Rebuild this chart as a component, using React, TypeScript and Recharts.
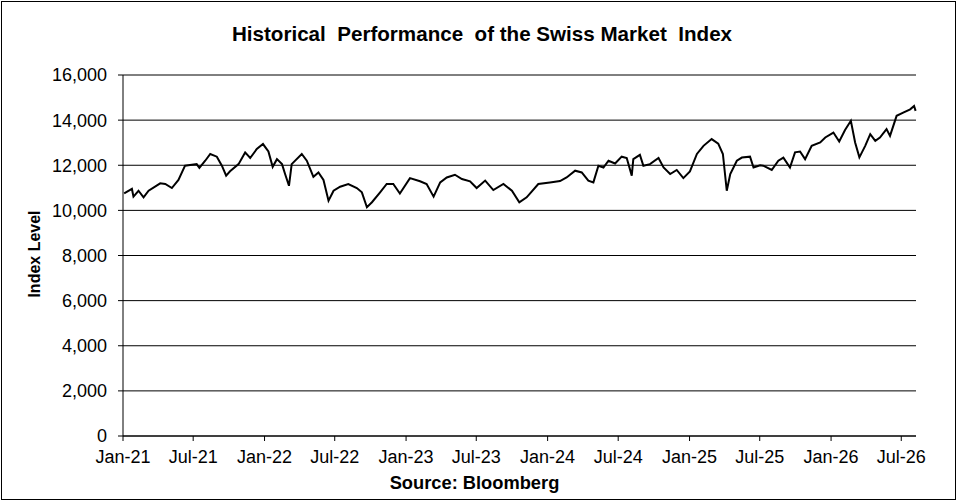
import React from "react";
import { LineChart, Line, XAxis, YAxis, CartesianGrid } from "recharts";

const dates = [
  "2021-01-04", "2021-01-24", "2021-01-28", "2021-02-10", "2021-02-23", "2021-03-08",
  "2021-04-07", "2021-04-20", "2021-05-07", "2021-05-24", "2021-06-10", "2021-07-10",
  "2021-07-17", "2021-08-01", "2021-08-14", "2021-08-31", "2021-09-13", "2021-09-24",
  "2021-10-04", "2021-10-26", "2021-11-12", "2021-11-25", "2021-12-12", "2021-12-28",
  "2022-01-11", "2022-01-22", "2022-02-02", "2022-02-15", "2022-02-23", "2022-03-05",
  "2022-03-12", "2022-04-07", "2022-04-20", "2022-05-07", "2022-05-20", "2022-06-02",
  "2022-06-15", "2022-06-28", "2022-07-15", "2022-08-05", "2022-08-27", "2022-09-09",
  "2022-09-22", "2022-10-05", "2022-10-26", "2022-11-12", "2022-11-29", "2022-12-16",
  "2023-01-11", "2023-02-06", "2023-02-23", "2023-03-13", "2023-03-30", "2023-04-16",
  "2023-05-07", "2023-05-25", "2023-06-15", "2023-07-02", "2023-07-24", "2023-08-14",
  "2023-09-09", "2023-10-01", "2023-10-20", "2023-11-08", "2023-12-08", "2024-01-07",
  "2024-02-02", "2024-02-19", "2024-03-12", "2024-03-29", "2024-04-15", "2024-04-28",
  "2024-05-11", "2024-05-24", "2024-06-06", "2024-06-23", "2024-07-10", "2024-07-23",
  "2024-08-05", "2024-08-09", "2024-08-26", "2024-09-04", "2024-09-21", "2024-10-13",
  "2024-10-26", "2024-11-12", "2024-11-29", "2024-12-16", "2025-01-02", "2025-01-20",
  "2025-02-06", "2025-02-27", "2025-03-16", "2025-03-28", "2025-04-07", "2025-04-16",
  "2025-05-03", "2025-05-16", "2025-06-06", "2025-06-15", "2025-07-02", "2025-07-10",
  "2025-08-01", "2025-08-18", "2025-08-31", "2025-09-17", "2025-09-30", "2025-10-13",
  "2025-10-26", "2025-11-12", "2025-12-04", "2025-12-17", "2026-01-07", "2026-01-22",
  "2026-02-06", "2026-02-21", "2026-03-04", "2026-03-15", "2026-03-30", "2026-04-12",
  "2026-04-25", "2026-05-07", "2026-05-24", "2026-06-02", "2026-06-19", "2026-07-06",
  "2026-07-24", "2026-08-03", "2026-08-07",
];

// SMI closing levels
const smi = [
  10750, 10950, 10610, 10870, 10580, 10870,
  11200, 11170, 10990, 11350, 11980, 12050,
  11880, 12200, 12500, 12380, 11980, 11540,
  11730, 12050, 12570, 12320, 12720, 12940,
  12610, 11930, 12270, 12050, 11610, 11090,
  12050, 12500, 12200, 11490, 11680, 11350,
  10430, 10870, 11050, 11170, 10990, 10800,
  10140, 10360, 10800, 11170, 11170, 10750,
  11430, 11290, 11170, 10610, 11240, 11460,
  11580, 11390, 11290, 10990, 11320, 10900,
  11170, 10870, 10360, 10580, 11170, 11240,
  11300, 11460, 11760, 11680, 11320, 11240,
  11980, 11900, 12200, 12080, 12380, 12320,
  11540, 12270, 12460, 11980, 12050, 12320,
  11900, 11610, 11790, 11430, 11730, 12500,
  12860, 13160, 12960, 12500, 10870, 11610,
  12200, 12340, 12380, 11900, 12000, 11980,
  11790, 12200, 12340, 11900, 12570, 12610,
  12270, 12860, 13010, 13230, 13450, 13050,
  13560, 13970, 13010, 12350, 12860, 13380,
  13080, 13230, 13600, 13300, 14190, 14330,
  14480, 14630, 14410,
];

const tickDates = [
  "2021-01-01", "2021-07-01", "2022-01-01", "2022-07-01", "2023-01-01", "2023-07-01",
  "2024-01-01", "2024-07-01", "2025-01-01", "2025-07-01", "2026-01-01", "2026-07-01",
];
const yTicks = [0, 2000, 4000, 6000, 8000, 10000, 12000, 14000, 16000];
const months = ["Jan", "Feb", "Mar", "Apr", "May", "Jun", "Jul", "Aug", "Sep", "Oct", "Nov", "Dec"];

const toTime = (s: string) => {
  const [y, m, d] = s.split("-").map(Number);
  return Date.UTC(y, m - 1, d);
};

const data = dates.map((d, i) => ({ t: toTime(d), v: smi[i] }));
const xTicks = tickDates.map(toTime);

const fmtDate = (t: number) => {
  const d = new Date(t);
  return `${months[d.getUTCMonth()]}-${String(d.getUTCFullYear()).slice(2)}`;
};

const font = "'Liberation Sans', Arial, sans-serif";

export default function App() {
  return (
    <div style={{ position: "absolute", left: 0, top: 0, width: 959, height: 504, background: "#fff", fontFamily: font }}>
      <div style={{ position: "absolute", left: 1, top: 1, width: 955, height: 499, border: "1px solid #000", boxSizing: "border-box" }} />
      <div style={{ position: "absolute", left: 0, width: 964, top: 22, textAlign: "center", fontWeight: "bold", fontSize: 20.6, whiteSpace: "pre" }}>
        {"Historical  Performance  of the Swiss Market  Index"}
      </div>
      <div style={{ position: "absolute", left: 35, top: 254, transform: "translate(-50%, -50%) rotate(-90deg)", fontWeight: "bold", fontSize: 16, whiteSpace: "nowrap" }}>
        Index Level
      </div>
      <div style={{ position: "absolute", left: 0, width: 949, top: 472, textAlign: "center", fontWeight: "bold", fontSize: 18.3 }}>
        Source: Bloomberg
      </div>
      <div style={{ position: "absolute", left: 0, top: 0 }}>
        <LineChart width={959} height={504} data={data} margin={{ top: 75, right: 43, left: 0, bottom: 38 }}>
          <CartesianGrid vertical={false} stroke="#000" strokeWidth={1} />
          <XAxis
            dataKey="t"
            type="number"
            scale="time"
            domain={[toTime("2021-01-01"), toTime("2026-08-08")]}
            ticks={xTicks}
            tickFormatter={fmtDate}
            stroke="#000"
            tickSize={5}
            tickMargin={9}
            height={30}
            tick={{ fill: "#000", fontSize: 18, fontFamily: font }}
            interval={0}
          />
          <YAxis
            domain={[0, 16000]}
            ticks={yTicks}
            tickFormatter={(v: number) => v.toLocaleString("en-US")}
            stroke="#000"
            tickSize={5}
            tickMargin={11}
            width={123}
            tick={{ fill: "#000", fontSize: 18, fontFamily: font }}
            interval={0}
          />
          <Line type="linear" dataKey="v" stroke="#000" strokeWidth={2} dot={false} isAnimationActive={false} />
        </LineChart>
      </div>
    </div>
  );
}
